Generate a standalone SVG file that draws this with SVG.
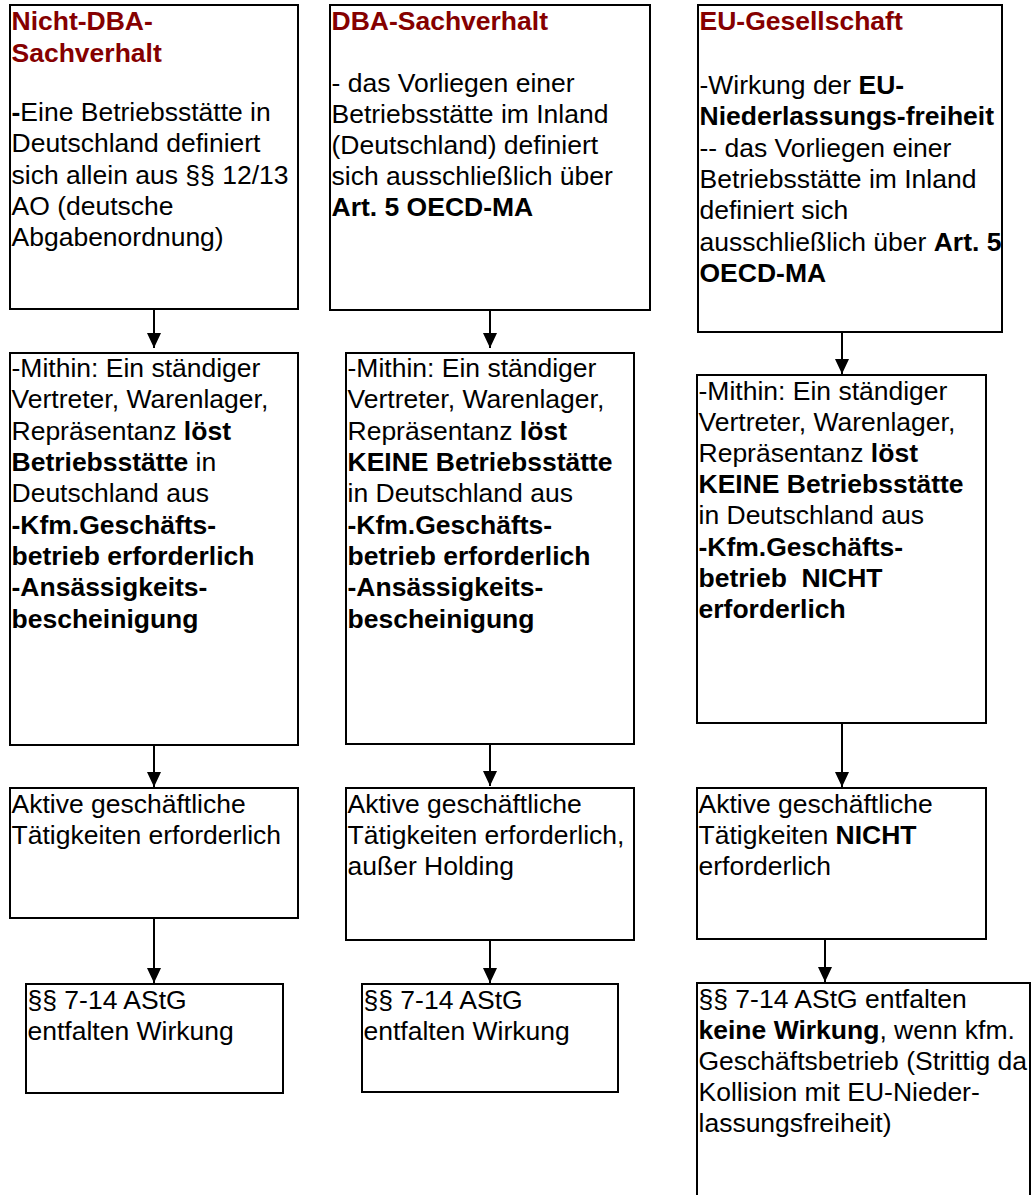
<svg xmlns="http://www.w3.org/2000/svg" width="1031" height="1195" viewBox="0 0 1031 1195">
<style>
.box{fill:#fff;stroke:#000;stroke-width:2}
.t{font-family:"Liberation Sans",Arial,sans-serif;font-size:26.5px;fill:#000;white-space:pre}
.h{font-weight:bold;fill:#850000}
.b{font-weight:bold}
.c{stroke:#000;stroke-width:2;fill:none}
</style>
<defs>
<marker id="ah" viewBox="0 0 15 14" refX="15" refY="7" markerWidth="15" markerHeight="14" markerUnits="userSpaceOnUse" orient="auto">
<path d="M0,0 L15,7 L0,14 z" fill="#000"/>
</marker>
</defs>
<rect width="1031" height="1195" fill="#fff"/>

<g id="connectors">
<line class="c" x1="154" y1="309" x2="154" y2="348" marker-end="url(#ah)"/>
<line class="c" x1="154" y1="745" x2="154" y2="787" marker-end="url(#ah)"/>
<line class="c" x1="154" y1="918" x2="154" y2="983" marker-end="url(#ah)"/>
<line class="c" x1="490" y1="310" x2="490" y2="348" marker-end="url(#ah)"/>
<line class="c" x1="490" y1="744" x2="490" y2="786" marker-end="url(#ah)"/>
<line class="c" x1="490" y1="940" x2="490" y2="983" marker-end="url(#ah)"/>
<line class="c" x1="842" y1="332" x2="842" y2="374" marker-end="url(#ah)"/>
<line class="c" x1="842" y1="723" x2="842" y2="787" marker-end="url(#ah)"/>
<line class="c" x1="825" y1="939" x2="825" y2="982" marker-end="url(#ah)"/>
</g>

<g id="nicht-dba">
<rect class="box" x="10" y="5" width="288" height="304"/>
<text class="t h" x="11.5" y="30">Nicht-DBA-</text>
<text class="t h" x="11.5" y="62">Sachverhalt</text>
<text class="t" x="11.5" y="121"><tspan class="b">-</tspan>Eine Betriebsstätte in</text>
<text class="t" x="11.5" y="152">Deutschland definiert</text>
<text class="t" x="11.5" y="184">sich allein aus §§ 12/13</text>
<text class="t" x="11.5" y="215">AO (deutsche</text>
<text class="t" x="11.5" y="246">Abgabenordnung)</text>
</g>

<g id="dba">
<rect class="box" x="330" y="5" width="320" height="305"/>
<text class="t h" x="331.5" y="30">DBA-Sachverhalt</text>
<text class="t" x="331.5" y="92">- das Vorliegen einer</text>
<text class="t" x="331.5" y="123">Betriebsstätte im Inland</text>
<text class="t" x="331.5" y="154">(Deutschland) definiert</text>
<text class="t" x="331.5" y="185">sich ausschließlich über</text>
<text class="t b" x="331.5" y="216">Art. 5 OECD-MA</text>
</g>

<g id="eu">
<rect class="box" x="698" y="5" width="304" height="327"/>
<text class="t h" x="699.5" y="30">EU-Gesellschaft</text>
<text class="t" x="699.5" y="94">-Wirkung der <tspan class="b">EU-</tspan></text>
<text class="t b" x="699.5" y="125">Niederlassungs-freiheit</text>
<text class="t" x="699.5" y="157">-- das Vorliegen einer</text>
<text class="t" x="699.5" y="188">Betriebsstätte im Inland</text>
<text class="t" x="699.5" y="219">definiert sich</text>
<text class="t" x="699.5" y="251">ausschließlich über <tspan class="b">Art. 5</tspan></text>
<text class="t b" x="699.5" y="282">OECD-MA</text>
</g>

<g id="mithin-1">
<rect class="box" x="10" y="353" width="288" height="392"/>
<text class="t" x="11.5" y="377">-Mithin: Ein ständiger</text>
<text class="t" x="11.5" y="408">Vertreter, Warenlager,</text>
<text class="t" x="11.5" y="440">Repräsentanz <tspan class="b">löst</tspan></text>
<text class="t" x="11.5" y="471"><tspan class="b">Betriebsstätte</tspan> in</text>
<text class="t" x="11.5" y="502">Deutschland aus</text>
<text class="t b" x="11.5" y="534">-Kfm.Geschäfts-</text>
<text class="t b" x="11.5" y="565">betrieb erforderlich</text>
<text class="t b" x="11.5" y="596">-Ansässigkeits-</text>
<text class="t b" x="11.5" y="628">bescheinigung</text>
</g>

<g id="mithin-2">
<rect class="box" x="346" y="353" width="288" height="391"/>
<text class="t" x="347.5" y="377">-Mithin: Ein ständiger</text>
<text class="t" x="347.5" y="408">Vertreter, Warenlager,</text>
<text class="t" x="347.5" y="440">Repräsentanz <tspan class="b">löst</tspan></text>
<text class="t b" x="347.5" y="471">KEINE Betriebsstätte</text>
<text class="t" x="347.5" y="502">in Deutschland aus</text>
<text class="t b" x="347.5" y="534">-Kfm.Geschäfts-</text>
<text class="t b" x="347.5" y="565">betrieb erforderlich</text>
<text class="t b" x="347.5" y="596">-Ansässigkeits-</text>
<text class="t b" x="347.5" y="628">bescheinigung</text>
</g>

<g id="mithin-3">
<rect class="box" x="697" y="375" width="289" height="348"/>
<text class="t" x="698.5" y="400">-Mithin: Ein ständiger</text>
<text class="t" x="698.5" y="431">Vertreter, Warenlager,</text>
<text class="t" x="698.5" y="462">Repräsentanz <tspan class="b">löst</tspan></text>
<text class="t b" x="698.5" y="493">KEINE Betriebsstätte</text>
<text class="t" x="698.5" y="524">in Deutschland aus</text>
<text class="t b" x="698.5" y="556">-Kfm.Geschäfts-</text>
<text class="t b" x="698.5" y="587">betrieb  NICHT</text>
<text class="t b" x="698.5" y="618">erforderlich</text>
</g>

<g id="aktiv-1">
<rect class="box" x="10" y="788" width="288" height="130"/>
<text class="t" x="11.5" y="813">Aktive geschäftliche</text>
<text class="t" x="11.5" y="844">Tätigkeiten erforderlich</text>
</g>

<g id="aktiv-2">
<rect class="box" x="346" y="788" width="288" height="152"/>
<text class="t" x="347.5" y="813">Aktive geschäftliche</text>
<text class="t" x="347.5" y="844">Tätigkeiten erforderlich,</text>
<text class="t" x="347.5" y="875">außer Holding</text>
</g>

<g id="aktiv-3">
<rect class="box" x="697" y="788" width="289" height="151"/>
<text class="t" x="698.5" y="813">Aktive geschäftliche</text>
<text class="t" x="698.5" y="844">Tätigkeiten <tspan class="b">NICHT</tspan></text>
<text class="t" x="698.5" y="875">erforderlich</text>
</g>

<g id="astg-1">
<rect class="box" x="26" y="984" width="257" height="109"/>
<text class="t" x="27.5" y="1009">§§ 7-14 AStG</text>
<text class="t" x="27.5" y="1040">entfalten Wirkung</text>
</g>

<g id="astg-2">
<rect class="box" x="362" y="984" width="256" height="108"/>
<text class="t" x="363.5" y="1009">§§ 7-14 AStG</text>
<text class="t" x="363.5" y="1040">entfalten Wirkung</text>
</g>

<g id="astg-3">
<rect class="box" x="697" y="983" width="333" height="230"/>
<text class="t" x="698.5" y="1008">§§ 7-14 AStG entfalten</text>
<text class="t" x="698.5" y="1039"><tspan class="b">keine Wirkung</tspan>, wenn kfm.</text>
<text class="t" x="698.5" y="1070">Geschäftsbetrieb (Strittig da</text>
<text class="t" x="698.5" y="1101">Kollision mit EU-Nieder-</text>
<text class="t" x="698.5" y="1132">lassungsfreiheit)</text>
</g>
</svg>
